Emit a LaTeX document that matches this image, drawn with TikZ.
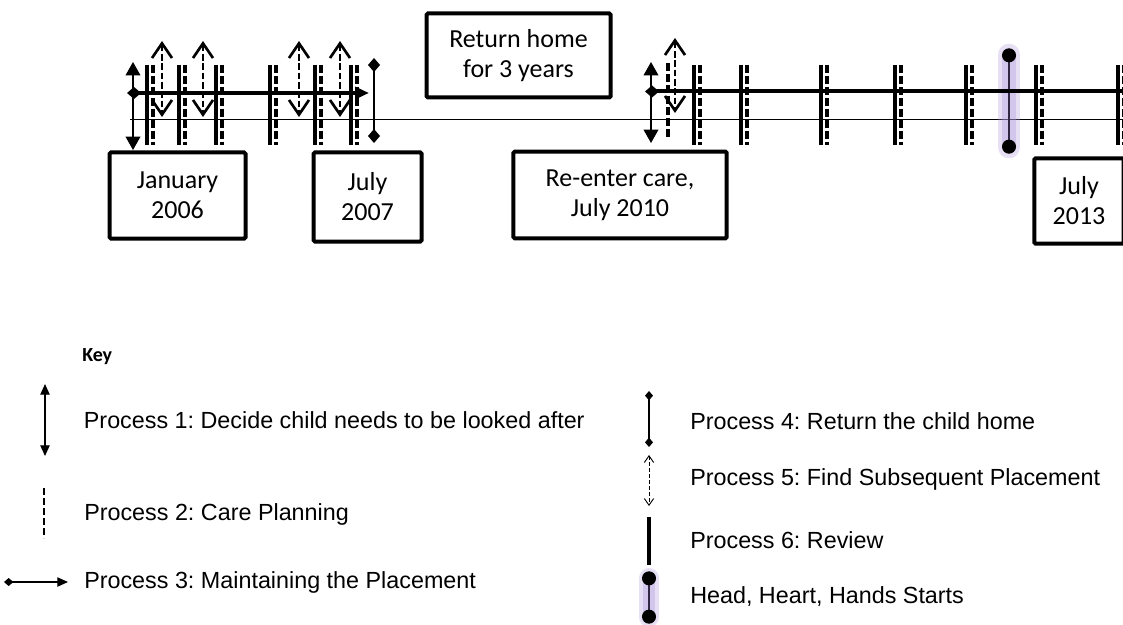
\documentclass[tikz,border=0pt]{standalone}
\usepackage{fontspec}
\usetikzlibrary{positioning,arrows.meta}

\newfontfamily\boxfont{Carlito}
\newfontfamily\keyfont{Liberation Sans}
\definecolor{glow}{RGB}{175,150,220}
\definecolor{hhhline}{RGB}{50,40,70}

\begin{document}
\frenchspacing
\begin{tikzpicture}[x=0.75pt,y=-0.75pt,
		datebox/.style={draw,line width=3pt,rounded corners=1pt,align=center,inner sep=0pt,font=\boxfont\fontsize{19.5}{22.5}\selectfont,execute at begin node={\rule{0pt}{17pt}}},
		keytext/.style={inner sep=0pt,font=\keyfont\fontsize{17.5}{20}\selectfont},
		review/.style={line width=3pt},
		planning/.style={line width=3pt,dash pattern=on 6pt off 2.2pt},
		decide/.style={line width=1.1pt,{Triangle[length=10pt,width=11pt]}-{Triangle[length=10pt,width=11pt]}},
		maintain/.style={line width=3pt,{Diamond[length=10.5pt,width=9pt]}-{Triangle[length=10.5pt,width=9pt]}},
		gohome/.style={line width=1.1pt,{Diamond[length=10.5pt,width=9pt]}-{Diamond[length=10.5pt,width=9pt]}},
		findnext/.style={line width=2pt,dash pattern=on 5pt off 2pt,{Straight Barb[length=11pt,width=15pt]}-{Straight Barb[length=11pt,width=15pt]}},
		hhh/.style={line width=1.5pt,draw=hhhline,shorten <=-5pt,shorten >=-5pt,{Circle[length=10.5pt,color=black]}-{Circle[length=10.5pt,color=black]}},
		halo/.style={draw=glow,line cap=round},
		keydecide/.style={line width=0.9pt,{Triangle[length=8pt,width=7pt]}-{Triangle[length=8pt,width=7pt]}},
		keyplanning/.style={line width=1.5pt,dash pattern=on 5pt off 2.5pt},
		keymaintain/.style={line width=0.9pt,{Diamond[length=7pt,width=6pt]}-{Triangle[length=8pt,width=7pt]}},
		keygohome/.style={line width=0.9pt,{Diamond[length=7pt,width=6pt]}-{Diamond[length=7pt,width=6pt]}},
		keyfindnext/.style={line width=0.7pt,dash pattern=on 3pt off 1.5pt,{Straight Barb[length=5pt,width=7pt]}-{Straight Barb[length=5pt,width=7pt]}},
		keyreview/.style={line width=2.5pt}]
	\useasboundingbox (0,0) rectangle (1123,624);

	\node[datebox,minimum width=102pt,minimum height=64.5pt]	(jan06)		at (177.5,195.5)	{January\\2006};
	\node[datebox,minimum width=81pt,minimum height=66.75pt]	(jul07)		at (367.5,197)		{July\\2007};
	\node[datebox,minimum width=138pt,minimum height=63pt]		(rethome)	at (518.5,55.5)		{Return home\\for 3 years};
	\node[datebox,minimum width=160pt,minimum height=65pt]		(reenter)	at (620,195)		{Re-enter care,\\July 2010};
	\node[datebox,minimum width=67pt,minimum height=64pt]		(jul13)		at (1079,201)		{July\\2013};

	\coordinate (linel) at (130,119.5);
	\coordinate (liner) at (1123,119.5);
	\draw[line width=1.1pt] (linel) -- (liner);

	\coordinate (hhhup)		at (1009,55);
	\coordinate (hhhdown)	at (1009,147);
	\draw[halo,line width=17pt,opacity=0.3] (hhhup) -- (hhhdown);
	\draw[halo,line width=10pt,opacity=0.35] (hhhup) -- (hhhdown);
	\draw[hhh] (hhhup) -- (hhhdown);

	\foreach \x [count=\i] in {147,179,216,270,315,351,694,741,821,895,966,1036,1118}{
		\coordinate (revtop\i) at (\x,65);
		\coordinate (revbot\i) at (\x,145);
		\coordinate (plantop\i) at (\x+6,65);
		\coordinate (planbot\i) at (\x+6,145);
		\draw[review] (revtop\i) -- (revbot\i);
		\draw[planning] (plantop\i) -- (planbot\i);
	}
	\coordinate (plantop) at (668,63);
	\coordinate (planbot) at (668,138);
	\draw[planning] (plantop) -- (planbot);

	\foreach \x/\a/\b [count=\i] in {162/41/117,203/41/117,299/41/117,340/41/117,675/38/113}{
		\coordinate (nexttop\i) at (\x,\a);
		\coordinate (nextbot\i) at (\x,\b);
		\draw[findnext] (nexttop\i) -- (nextbot\i);
	}

	\coordinate (decidetop1)	at (133,62);
	\coordinate (decidebot1)	at (133,150);
	\coordinate (decidetop2)	at (651,62);
	\coordinate (decidebot2)	at (651,143);
	\draw[decide] (decidetop1) -- (decidebot1);
	\draw[decide] (decidetop2) -- (decidebot2);

	\coordinate (keepa) at (127,93);
	\coordinate (keepb) at (369,93);
	\coordinate (keepc) at (645,91.5);
	\coordinate (keepd) at (1140,91.5);
	\draw[maintain] (keepa) -- (keepb);
	\draw[maintain] (keepc) -- (keepd);

	\coordinate (hometop) at (374,58);
	\coordinate (homebot) at (374,143);
	\draw[gohome] (hometop) -- (homebot);

	\node[font=\boxfont\bfseries\fontsize{15}{17}\selectfont,inner sep=0pt,anchor=west]	(keyhead)	at (82,357)	{Key};

	\coordinate (k1top) at (45,384);
	\coordinate (k1bot) at (45,456);
	\coordinate (k1mid) at (45,420);
	\draw[keydecide] (k1top) -- (k1bot);
	\node[keytext,right=29pt of k1mid]	(k1text)	{Process 1: Decide child needs to be looked after};

	\coordinate (k2top) at (44,488);
	\coordinate (k2bot) at (44,538);
	\coordinate (k2mid) at (44,514);
	\draw[keyplanning] (k2top) -- (k2bot);
	\node[keytext,right=30pt of k2mid]	(k2text)	{Process 2: Care Planning};

	\coordinate (k3left) at (4,582);
	\coordinate (k3right) at (68,582);
	\draw[keymaintain] (k3left) -- (k3right);
	\node[keytext,right=12pt of k3right]	(k3text)	{Process 3: Maintaining the Placement};

	\coordinate (k4top) at (649,391);
	\coordinate (k4bot) at (649,447);
	\coordinate (k4mid) at (649,421);
	\draw[keygohome] (k4top) -- (k4bot);
	\node[keytext,right=30.75pt of k4mid]	(k4text)	{Process 4: Return the child home};

	\coordinate (k5top) at (649,455);
	\coordinate (k5bot) at (649,506);
	\coordinate (k5mid) at (649,479);
	\draw[keyfindnext] (k5top) -- (k5bot);
	\node[keytext,right=30.75pt of k5mid]	(k5text)	{Process 5: Find Subsequent Placement};

	\coordinate (k6top) at (649,517);
	\coordinate (k6bot) at (649,565);
	\coordinate (k6mid) at (649,540);
	\draw[keyreview] (k6top) -- (k6bot);
	\node[keytext,right=30.75pt of k6mid]	(k6text)	{Process 6: Review};

	\coordinate (k7up) at (649,578);
	\coordinate (k7down) at (649,617);
	\coordinate (k7mid) at (649,597);
	\draw[halo,line width=15pt,opacity=0.3] (k7up) -- (k7down);
	\draw[halo,line width=9pt,opacity=0.35] (k7up) -- (k7down);
	\draw[hhh] (k7up) -- (k7down);
	\node[keytext,right=30.75pt of k7mid]	(k7text)	{Head, Heart, Hands Starts};
\end{tikzpicture}
\end{document}
